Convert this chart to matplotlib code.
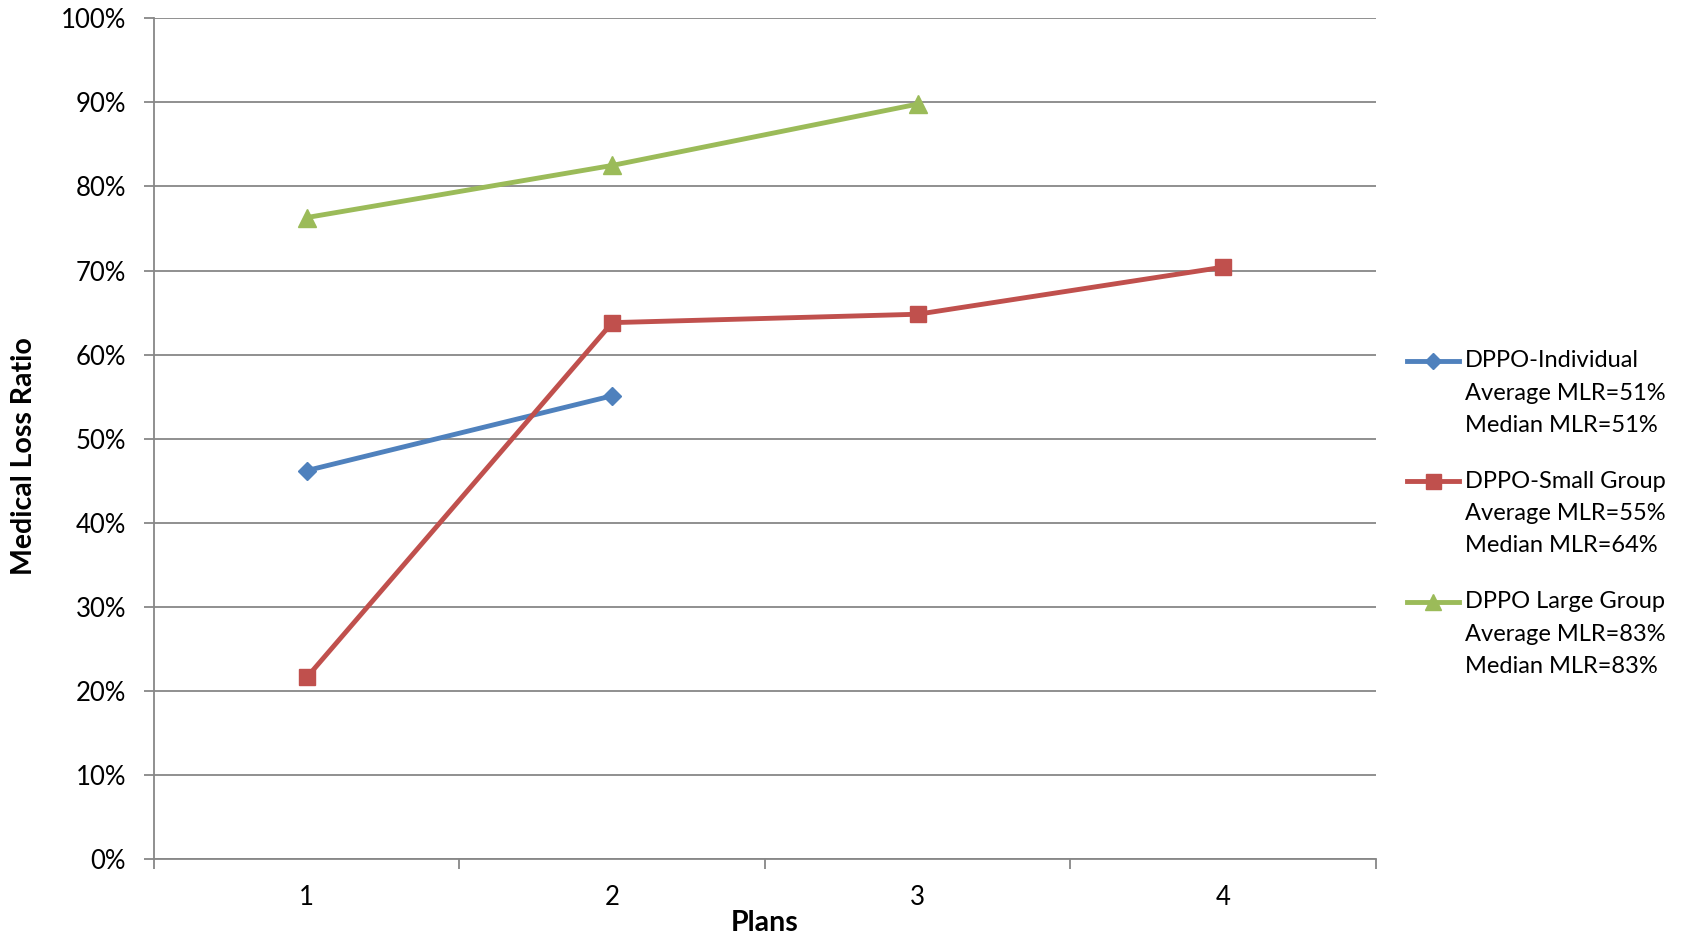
import numpy as np
import matplotlib.pyplot as plt
from matplotlib.lines import Line2D
from matplotlib.ticker import FixedLocator, PercentFormatter

plt.rcParams['font.family'] = ['Lato', 'DejaVu Sans']

plans = [1, 2, 3, 4]
individual = [46.2, 55.1]
small_group = [21.6, 63.8, 64.8, 70.4]
large_group = [76.3, 82.5, 89.8]

series_names = ["DPPO-Individual", "DPPO-Small Group", "DPPO Large Group"]
avg_mlr = [51, 55, 83]
median_mlr = [51, 64, 83]
colors = ['#4F81BD', '#C0504D', '#9BBB59']
markers = ['D', 's', '^']
msizes = [9, 12, 13]

fig = plt.figure(figsize=(16.85, 9.39), dpi=100)
ax = fig.add_axes([0.0914, 0.0852, 0.7252, 0.8953])

data = [individual, small_group, large_group]
for vals, c, m, ms in zip(data, colors, markers, msizes):
    ax.plot(plans[:len(vals)], vals, color=c, lw=3.5, marker=m, ms=ms,
            markeredgecolor=c, zorder=3, clip_on=False)

ax.set_xlim(0.5, 4.5)
ax.set_ylim(0, 100)
ax.yaxis.set_major_locator(FixedLocator(np.arange(0, 101, 10)))
ax.yaxis.set_major_formatter(PercentFormatter(decimals=0))
ax.set_xticks([0.5, 1.5, 2.5, 3.5, 4.5])
ax.set_xticklabels([])
ax.set_xticks(plans, minor=True)
ax.set_xticklabels([str(p) for p in plans], minor=True)

grid_c = '#878787'
ax.grid(axis='y', color=grid_c, lw=1.3)
ax.set_axisbelow(True)
for s in ['top', 'right']:
    ax.spines[s].set_visible(False)
for s in ['left', 'bottom']:
    ax.spines[s].set_color(grid_c)
    ax.spines[s].set_linewidth(1.3)

ax.tick_params(axis='y', length=7, width=1.3, color=grid_c, pad=13, labelsize=18.5)
ax.tick_params(axis='x', which='major', length=7, width=1.3, color=grid_c)
ax.tick_params(axis='x', which='minor', length=0, pad=19, labelsize=18.5)

# x title placed in figure coords so it stays inside the bottom edge
fig.text(0.4538, 0.0175, 'Plans', fontsize=20.5, fontweight='bold',
         ha='center', va='center')
fig.text(0.014, 0.514, 'Medical Loss Ratio', rotation=90, fontsize=20.5,
         fontweight='bold', ha='center', va='center')

# legend drawn by hand so the handle sits on the first line
W, H = 1685, 939
for i in range(3):
    y0 = 360.7 + i * 120.6
    yf = 1 - y0 / H
    fig.add_artist(Line2D([1407 / W, 1459 / W], [yf, yf], color=colors[i], lw=3.5))
    fig.add_artist(Line2D([1433 / W], [yf], color=colors[i], marker=markers[i],
                          ms=msizes[i] * 0.9, markeredgecolor=colors[i]))
    lines = [series_names[i], f"Average MLR={avg_mlr[i]}%", f"Median MLR={median_mlr[i]}%"]
    for j, t in enumerate(lines):
        fig.text(1465 / W, 1 - (y0 + j * 32.3) / H, t, fontsize=17,
                 ha='left', va='center')

fig.savefig('out.png', dpi=100, facecolor='white')
